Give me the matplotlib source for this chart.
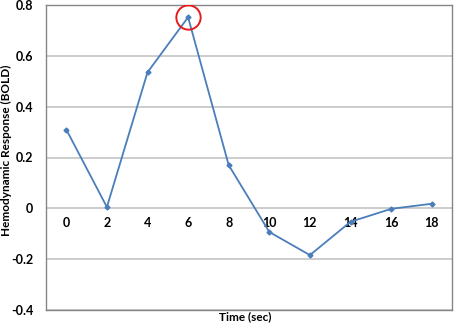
import matplotlib
matplotlib.use("Agg")
import matplotlib.pyplot as plt

## Data
time_labels = ['0', '2', '4', '6', '8', '10', '12', '14', '16', '18']
bold_response = [0.31, 0.005, 0.535, 0.752, 0.17, -0.093, -0.184, -0.053, -0.002, 0.018]
peak_index = 3

y_ticks = [-0.4, -0.2, 0, 0.2, 0.4, 0.6, 0.8]
y_ticklabels = ['-0.4', '-0.2', '0', '0.2', '0.4', '0.6', '0.8']

line_color = '#4A7EBB'
grid_color = '#C4C4C4'
frame_color = '#868686'

plt.rcParams['font.family'] = ['Lato', 'DejaVu Sans']
plt.rcParams['font.weight'] = 'bold'

fig = plt.figure(figsize=(4.54, 3.27), dpi=100)
ax = fig.add_axes([46/454, 1 - 310/327, 406/454, 305/327])

xs = list(range(len(time_labels)))
ax.plot(xs, bold_response, color=line_color, linewidth=1.3,
        marker='D', markersize=2.5, zorder=3)

## Red circle highlighting the peak
ax.plot(xs[peak_index], bold_response[peak_index], 'o', markersize=17.5,
        markerfacecolor='none', markeredgecolor='#E8191C', markeredgewidth=1.4, zorder=4)

ax.set_xlim(-0.5, len(xs) - 0.5)
ax.set_ylim(-0.4, 0.8)
ax.set_yticks(y_ticks, labels=y_ticklabels, fontsize=9, fontweight='bold')
ax.tick_params(axis='y', length=0, pad=9)
ax.set_xticks([])
ax.grid(axis='y', color=grid_color, linewidth=1.2, zorder=0)
ax.set_axisbelow(True)
for s in ax.spines.values():
    s.set_color(frame_color)
    s.set_linewidth(1.0)

## Category labels sit on the zero line, as in the spreadsheet chart
sec = ax.secondary_xaxis(0.4 / 1.2)
sec.set_xticks(xs, labels=time_labels, fontsize=9, fontweight='bold')
sec.tick_params(axis='x', length=0, pad=6)
sec.spines['bottom'].set_visible(False)

ax.set_xlabel('Time (sec)', fontsize=8.5, fontweight='bold')
ax.xaxis.set_label_coords((245 - 46) / 406, -(317 - 310) / 305)
ax.set_ylabel('Hemodynamic Response (BOLD)', fontsize=8.5, fontweight='bold')
ax.yaxis.set_label_coords(-(46 - 6.5) / 406, (310 - 150) / 305)
ax.xaxis.label.set_va('center')
ax.yaxis.label.set_va('center')

fig.savefig('out.png', dpi=100)
